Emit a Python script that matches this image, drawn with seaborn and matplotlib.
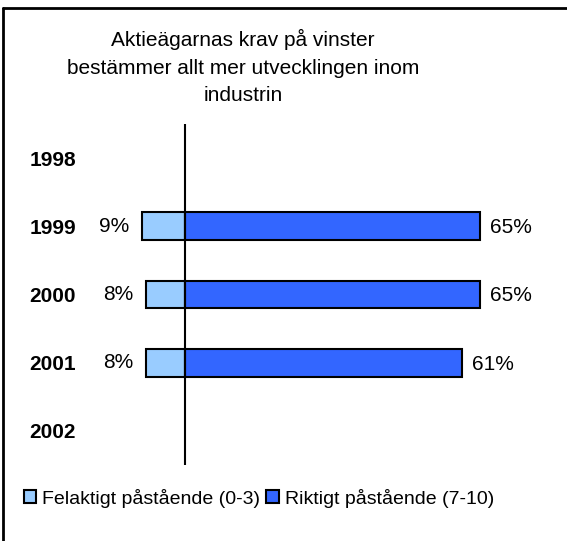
import numpy as np
import pandas as pd
import seaborn as sns
import matplotlib.pyplot as plt
from matplotlib.patches import Patch
from matplotlib.lines import Line2D

# data
years = ["1998", "1999", "2000", "2001", "2002"]
felaktigt = [np.nan, 9.4, 8.5, 8.5, np.nan]   # Felaktigt påstående (0-3)
riktigt = [np.nan, 65, 65, 61, np.nan]        # Riktigt påstående (7-10)
fel_labels = ["", "9%", "8%", "8%", ""]
rikt_labels = ["", "65%", "65%", "61%", ""]

light = "#99CCFF"
dark = "#3366FF"

df = pd.DataFrame({"Year": years,
                   "Felaktigt": [-v for v in felaktigt],
                   "Riktigt": riktigt})

sns.set_style("white")
plt.rcParams['font.family'] = ['Liberation Sans', 'DejaVu Sans']
plt.rcParams['text.color'] = 'black'
plt.rcParams['ytick.color'] = 'black'
plt.rcParams['xtick.color'] = 'black'

fig = plt.figure(figsize=(5.67, 5.41), dpi=100)
ax = fig.add_axes([90/567, 1-465/541, 450/567, 341/541])

sns.barplot(data=df, x="Felaktigt", y="Year", order=years, orient="h",
            color=light, edgecolor="black", linewidth=1.5, width=0.41,
            errorbar=None, saturation=1, ax=ax)
sns.barplot(data=df, x="Riktigt", y="Year", order=years, orient="h",
            color=dark, edgecolor="black", linewidth=1.5, width=0.41,
            errorbar=None, saturation=1, ax=ax)

ax.axvline(0, color="black", lw=1.5, zorder=5)
ax.set_xlim(-20.9, 78.2)
ax.set_ylim(4.5, -0.5)

# value labels
for i in range(len(years)):
    if not np.isnan(felaktigt[i]):
        ax.annotate(fel_labels[i], (-felaktigt[i], i), xytext=(-9, 0),
                    textcoords="offset points", ha="right", va="center",
                    fontsize=15, color="black")
    if not np.isnan(riktigt[i]):
        ax.annotate(rikt_labels[i], (riktigt[i], i), xytext=(7, -1),
                    textcoords="offset points", ha="left", va="center",
                    fontsize=15, color="black")

ax.set_xlabel("")
ax.set_ylabel("")
ax.set_xticks([])
ax.tick_params(axis="y", length=0, pad=10, labelcolor="black")
for lab in ax.get_yticklabels():
    lab.set_fontsize(15)
    lab.set_fontweight("bold")
sns.despine(ax=ax, left=True, bottom=True)

fig.text(243/567, 1-67/541, "Aktieägarnas krav på vinster\nbestämmer allt mer utvecklingen inom\nindustrin",
         ha="center", va="center", fontsize=15, linespacing=1.55, color="black")

handles = [Patch(facecolor=light, edgecolor="black", lw=1.5, label="Felaktigt påstående (0-3)"),
           Patch(facecolor=dark, edgecolor="black", lw=1.5, label="Riktigt påstående (7-10)")]
leg = fig.legend(handles=handles, loc="center left", bbox_to_anchor=(16/567, 1-498/541),
                 ncol=2, frameon=False, fontsize=14, handlelength=0.65, handleheight=0.65,
                 handletextpad=0.3, columnspacing=0.3, borderaxespad=0)
for t in leg.get_texts():
    t.set_color("black")

# outer frame (top and left only)
fig.add_artist(Line2D([3/567, 1], [1-8/541, 1-8/541], color="black", lw=2))
fig.add_artist(Line2D([3/567, 3/567], [0, 1-8/541], color="black", lw=2))

fig.savefig("out.png", dpi=100)
